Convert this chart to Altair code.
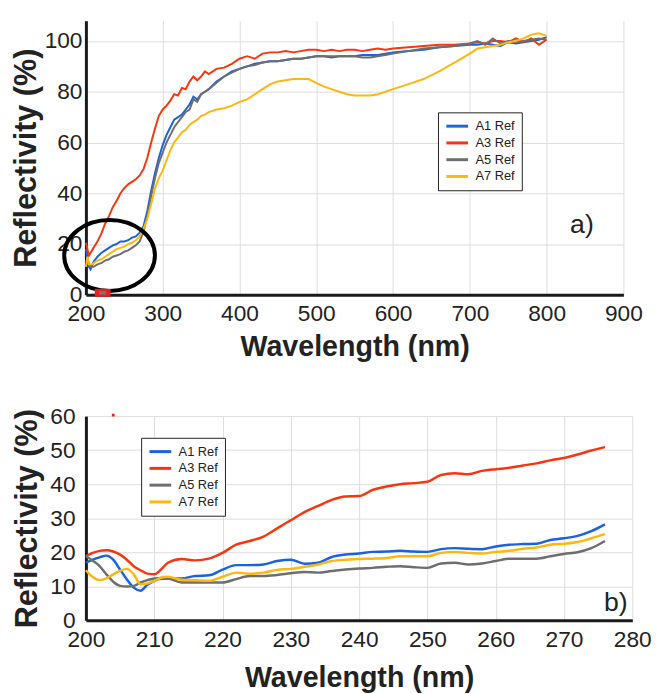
import altair as alt
import pandas as pd

SERIES = ["A1 Ref", "A3 Ref", "A5 Ref", "A7 Ref"]
COLORS = ["#1a63dc", "#f5360f", "#6e6e6e", "#ffb70f"]

# ---- panel a) : 200-800 nm ----
WL_TOP = [200, 202, 204, 206, 208, 210,
          215, 220, 225, 230, 235, 240, 245, 250, 255, 260, 265, 270, 275, 280,
          285, 290, 295, 300, 305, 310, 315, 320, 325, 330, 335, 340, 345, 350, 355, 360,
          370, 380, 390, 400, 410, 420, 430, 440, 450, 460, 470, 480, 490, 500,
          510, 520, 530, 540, 550, 560, 570, 580, 590, 600,
          620, 640, 660, 680, 700,
          710, 720, 730, 740, 750, 760, 770, 780, 790, 800]
A1_TOP = [18, 14, 11, 10, 11.5, 13,
          15, 16.5, 17.5, 18.5, 19.5, 20, 21, 21, 21.5, 22.5, 23, 24.5, 27, 33,
          41, 48, 54, 59, 63, 66, 69, 70, 71, 73, 75, 78, 77, 79, 80, 81,
          84, 86, 88, 89, 90, 91, 91.5, 92, 92, 92.5, 93, 93, 93.5, 94,
          94, 93.5, 94, 94, 94, 94.5, 94.5, 94.5, 95, 95.5,
          96, 96.5, 97.5, 98, 98.5,
          98.5, 99, 98.5, 98, 99.5, 99, 99.5, 100, 100.5, 101.5]
A3_TOP = [20.5, 18, 15.5, 16.5, 17.5, 18.5,
          21, 24, 28, 31, 34.5, 37, 40, 42, 43.5, 44.5, 45.5, 47, 49.5, 54,
          60, 65.5, 70.5, 73, 74.5, 76.5, 79, 78.5, 81.5, 81, 84, 86, 84.5, 86, 88, 87,
          89, 89.5, 91, 93, 94, 93, 95, 95.5, 95.5, 96, 95.5, 96, 96.5, 96.5,
          96, 96.5, 96, 96.5, 96.5, 96, 96.5, 97, 96.5, 97,
          97.5, 98, 98.5, 98.5, 99,
          99.5, 99, 100, 100, 99.5, 101, 99.5, 101, 98.5, 100.5]
A5_TOP = [13, 14, 12, 11, 11, 11,
          12, 12.5, 13.5, 14, 15, 15.5, 16, 17, 17.5, 18.5, 19.5, 21, 25, 31,
          39, 46, 52, 56, 60, 63, 66, 68, 70, 72, 73, 77, 76, 79, 80, 81,
          83.5, 86, 87.5, 89, 90, 90.5, 91.5, 92, 92, 92.5, 93, 93, 93.5, 94,
          94, 94, 94, 94, 94, 93.5, 93.5, 94, 94.5, 95,
          96, 97, 97.5, 98, 99,
          100, 98.5, 101, 99, 100, 99.5, 100, 100.5, 101, 100.5]
A7_TOP = [11, 15, 12, 12, 12, 12.5,
          13.5, 14, 15, 16, 17, 18, 18.5, 19, 20, 20.5, 21.5, 23, 26, 30,
          36, 42, 46, 49, 53, 57, 60, 62, 64, 65, 67, 68, 69, 70.5, 71, 72,
          73, 73.5, 74.5, 76, 77, 79, 81, 83, 84, 84.5, 85, 85, 85, 83.5,
          82, 81, 80, 79, 78.5, 78.5, 78.5, 79, 80, 81,
          83, 85, 88, 91.5, 95,
          97, 97.5, 98, 98.5, 99.5, 100, 101, 102.5, 103, 102]

# ---- panel b) : 200-276 nm ----
WL_BOT = [200, 201, 202, 203, 204, 205, 206, 207, 208, 209, 210, 211, 212,
          214, 216, 218, 220, 222, 224, 226, 228, 230, 232, 234, 236, 238, 240,
          242, 244, 246, 248, 250, 252, 254, 256, 258, 260, 262, 264, 266, 268,
          270, 272, 274, 276]
A1_BOT = [16.9, 17.8, 18.5, 19, 17.8, 14.9, 12, 9.6, 8.7, 10.4, 11.6, 12.2, 12.3,
          12.3, 13, 13.2, 14.9, 16.2, 16.2, 16.4, 17.4, 17.8, 16.6, 16.9, 18.6, 19.3, 19.6,
          20.1, 20.2, 20.4, 20.2, 20.1, 20.9, 21.2, 21, 20.9, 21.7, 22.2, 22.4, 22.5, 23.6,
          24.1, 24.8, 26.2, 28.2]
A3_BOT = [18.8, 19.8, 20.4, 20.6, 20.2, 19.3, 17.8, 15.9, 14.7, 13.7, 13.5, 14.9, 16.9,
          18, 17.6, 18.1, 19.8, 22.2, 23.3, 24.6, 27, 29.4, 31.8, 33.6, 35.4, 36.4, 36.5,
          38.3, 39.3, 40, 40.3, 40.7, 42.7, 43.2, 42.9, 43.9, 44.4, 44.8, 45.5, 46.1, 47,
          47.7, 48.7, 49.9, 50.9]
A5_BOT = [18.8, 17.5, 15.9, 13.5, 11.3, 10.1, 9.9, 10.1, 11.1, 11.8, 12.3, 12.4, 12.3,
          11.1, 11.1, 11.1, 11.1, 12.1, 13, 13, 13.3, 13.8, 14.2, 14, 14.5, 14.9, 15.2,
          15.4, 15.7, 15.9, 15.6, 15.4, 16.7, 16.9, 16.4, 16.7, 17.4, 18.1, 18.1, 18.1, 18.8,
          19.5, 20, 21.2, 23.3]
A7_BOT = [14.7, 12.7, 11.8, 12.3, 13.5, 14.5, 15.1, 13.5, 10.6, 10.8, 11.6, 12.5, 12.8,
          11.9, 11.8, 11.6, 12.8, 14, 13.7, 14, 14.8, 15.1, 15.7, 16.4, 17.4, 17.8, 18,
          18.1, 18.3, 18.8, 18.8, 18.8, 19.8, 20.1, 19.8, 19.6, 20.1, 20.4, 21, 21.4, 22.2,
          22.5, 23, 24.1, 25.3]

X_TICKS_TOP = [200, 300, 400, 500, 600, 700, 800, 900]
Y_TICKS_TOP = [0, 20, 40, 60, 80, 100]
X_TICKS_BOT = [200, 210, 220, 230, 240, 250, 260, 270, 280]
Y_TICKS_BOT = [0, 10, 20, 30, 40, 50, 60]

# annotations
LABEL_A = {"x": [846], "y": [27.5], "t": ["a)"]}
LABEL_B = {"x": [277.6], "y": [4.9], "t": ["b)"]}
CIRCLE_A = {"x": [230.8], "y": [15.5]}
MARKER_A = {"x": [221.8], "y": [0.8]}
DOT_B = {"x": [204], "y": [60.3]}


def long_df(wl, series_vals):
    rows = []
    for name, vals in zip(SERIES, series_vals):
        assert len(vals) == len(wl), name
        for w, v in zip(wl, vals):
            rows.append({"wl": w, "r": v, "s": name})
    return pd.DataFrame(rows)


df_top = long_df(WL_TOP, [A1_TOP, A3_TOP, A5_TOP, A7_TOP])
df_bot = long_df(WL_BOT, [A1_BOT, A3_BOT, A5_BOT, A7_BOT])

FONT = "Liberation Sans"
TXT = "#222222"


def axis(values, title, label_pad, title_pad, title_size):
    return alt.Axis(values=values, title=title, grid=True, gridColor="#dcdcdc",
                    gridWidth=1, domainColor="#1a1a1a", domainWidth=3,
                    ticks=False, tickSize=0, labelFontSize=23, labelColor=TXT,
                    labelFont=FONT, labelPadding=label_pad, titleFont=FONT,
                    titleFontSize=title_size, titleFontWeight="bold",
                    titleColor=TXT, titlePadding=title_pad, labelFlush=False,
                    labelOverlap=False)


def legend(lx, ly):
    return alt.Legend(orient="none", legendX=lx, legendY=ly, title=None,
                      strokeColor="#222222", fillColor="white", padding=7,
                      symbolType="M-1,0H3", symbolSize=121, symbolStrokeWidth=3,
                      labelFontSize=13, labelFont=FONT, labelColor=TXT,
                      labelOffset=17, rowPadding=3, cornerRadius=0)


xs_top = alt.Scale(domain=[200, 900], nice=False, zero=False)
ys_top = alt.Scale(domain=[0, 108], nice=False)
xs_bot = alt.Scale(domain=[200, 280], nice=False, zero=False)
ys_bot = alt.Scale(domain=[0, 60], nice=False)

ax_x_top = axis(X_TICKS_TOP, "Wavelength (nm)", 8, 8, 29)
ax_y_top = axis(Y_TICKS_TOP, "Reflectivity (%)", 4, 2, 31)
ax_x_bot = axis(X_TICKS_BOT, "Wavelength (nm)", 9, 12, 29)
ax_y_bot = axis(Y_TICKS_BOT, "Reflectivity (%)", 11, 7, 31)


def xt(field):
    return alt.X(field, type="quantitative", scale=xs_top, axis=ax_x_top)


def yt(field):
    return alt.Y(field, type="quantitative", scale=ys_top, axis=ax_y_top)


def xb(field):
    return alt.X(field, type="quantitative", scale=xs_bot, axis=ax_x_bot)


def yb(field):
    return alt.Y(field, type="quantitative", scale=ys_bot, axis=ax_y_bot)


color_scale = alt.Scale(domain=SERIES, range=COLORS)

lines_top = alt.Chart(df_top).mark_line(strokeWidth=2).encode(
    x=xt("wl"), y=yt("r"),
    color=alt.Color("s:N", scale=color_scale, legend=legend(357, 93)),
)

circle = alt.Chart(pd.DataFrame(CIRCLE_A)).mark_point(
    shape="M-1,0A1,0.7826,0,1,1,1,0A1,0.7826,0,1,1,-1,0Z",
    size=8464, filled=False, stroke="black", strokeWidth=4, opacity=1,
).encode(x=xt("x"), y=yt("y"))

marker_red = alt.Chart(pd.DataFrame(MARKER_A)).mark_point(
    shape="M-1,-0.5H1V0.5H-1Z", size=256, filled=True, fill="#e8201c",
    strokeWidth=0, opacity=1,
).encode(x=xt("x"), y=yt("y"))

marker_gray = alt.Chart(pd.DataFrame(MARKER_A)).mark_point(
    shape="M-1,-0.5H1V0.5H-1Z", size=49, filled=True, fill="#777777",
    strokeWidth=0, opacity=1,
).encode(x=xt("x"), y=yt("y"))

text_a = alt.Chart(pd.DataFrame(LABEL_A)).mark_text(
    fontSize=27, font=FONT, color=TXT, align="center", baseline="middle",
).encode(x=xt("x"), y=yt("y"), text="t:N")

top = alt.layer(lines_top, circle, marker_red, marker_gray, text_a).properties(
    width=545, height=278)

lines_bot = alt.Chart(df_bot).mark_line(strokeWidth=2.5, interpolate="monotone").encode(
    x=xb("wl"), y=yb("r"),
    color=alt.Color("s:N", scale=color_scale, legend=legend(56, 22)),
)

dot_b = alt.Chart(pd.DataFrame(DOT_B)).mark_point(
    shape="square", size=8, filled=True, color="#e8201c", opacity=1,
).encode(x=xb("x"), y=yb("y"))

text_b = alt.Chart(pd.DataFrame(LABEL_B)).mark_text(
    fontSize=27, font=FONT, color=TXT, align="center", baseline="middle",
).encode(x=xb("x"), y=yb("y"), text="t:N")

bottom = alt.layer(lines_bot, dot_b, text_b).properties(width=554, height=207)

chart = alt.vconcat(top, bottom, spacing=44).resolve_scale(
    color="independent", x="independent", y="independent"
).resolve_legend(color="independent").configure(
    padding={"left": 2, "top": 8, "right": 0, "bottom": 0},
    background="white",
).configure_view(stroke=None)

chart.save("out.html", embed_options={"renderer": "svg", "actions": False})
